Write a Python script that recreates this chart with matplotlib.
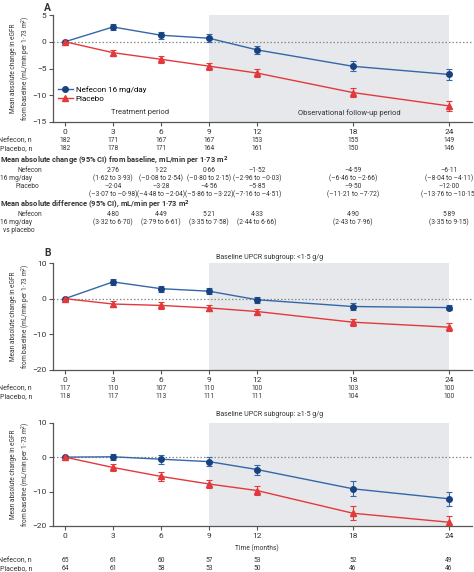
import numpy as np
import matplotlib
matplotlib.use('Agg')
import matplotlib.pyplot as plt
import matplotlib.transforms as mtransforms
from matplotlib.lines import Line2D

plt.rcParams['font.family'] = ['Roboto', 'Liberation Sans', 'DejaVu Sans']
fontSize = 4.8
headSize = 5.4

colorBlue = '#3467a8'
colorBlueDark = '#17427f'
colorRed = '#e3393b'
colorShade = '#e6e8ec'
colorAxis = '#555555'
colorText = '#333333'

months = [0, 3, 6, 9, 12, 18, 24]

# Panel A: overall population
nefA = [0, 2.76, 1.22, 0.66, -1.52, -4.59, -6.11]
nefA_err = [0, 0.59, 0.67, 0.76, 0.73, 0.97, 1.0]
plaA = [0, -2.04, -3.28, -4.56, -5.85, -9.50, -12.00]
plaA_err = [0, 0.53, 0.62, 0.67, 0.68, 0.89, 0.92]
nefA_n = ['182', '171', '167', '167', '153', '155', '149']
plaA_n = ['182', '178', '171', '164', '161', '150', '146']
nefA_change = ['', '2·76', '1·22', '0·66', '–1·52', '–4·59', '–6·11']
nefA_ci = ['', '(1·62 to 3·93)', '(–0·08 to 2·54)', '(–0·80 to 2·15)', '(–2·96 to –0·03)',
           '(–6·46 to –2·66)', '(–8·04 to –4·11)']
plaA_change = ['', '–2·04', '–3·28', '–4·56', '–5·85', '–9·50', '–12·00']
plaA_ci = ['', '(–3·07 to –0·98)', '(–4·48 to –2·04)', '(–5·86 to –3·22)', '(–7·16 to –4·51)',
           '(–11·21 to –7·72)', '(–13·76 to –10·15)']
diffA = ['', '4·80', '4·49', '5·21', '4·33', '4·90', '5·89']
diffA_ci = ['', '(3·32 to 6·70)', '(2·79 to 6·61)', '(3·35 to 7·58)', '(2·44 to 6·66)',
            '(2·43 to 7·96)', '(3·35 to 9·15)']

# Panel B, UPCR < 1.5 g/g
nefB1 = [0, 4.7, 2.8, 2.1, -0.3, -2.2, -2.5]
nefB1_err = [0, 0.9, 0.8, 0.9, 0.8, 0.9, 0.8]
plaB1 = [0, -1.5, -1.9, -2.6, -3.6, -6.6, -8.0]
plaB1_err = [0, 0.9, 0.9, 0.9, 0.8, 1.0, 1.1]
nefB1_n = ['117', '110', '107', '110', '100', '103', '100']
plaB1_n = ['118', '117', '113', '111', '111', '104', '100']

# Panel B, UPCR >= 1.5 g/g
nefB2 = [0, 0.1, -0.6, -1.3, -3.6, -9.2, -12.1]
nefB2_err = [0, 0.9, 1.3, 1.2, 1.45, 2.2, 2.1]
plaB2 = [0, -3.0, -5.6, -7.8, -9.7, -16.3, -18.9]
plaB2_err = [0, 1.0, 1.4, 1.2, 1.4, 2.0, 1.75]
nefB2_n = ['65', '61', '60', '57', '53', '52', '49']
plaB2_n = ['64', '61', '58', '53', '50', '46', '46']

W, H = 474.0, 572.0
def fx(x):
    return x / W
def fy(y):
    return 1 - y / H

fig = plt.figure(figsize=(4.74, 5.72), dpi=100)

def makeAxes(top, bottom, ylim, yticks):
    ax = fig.add_axes([fx(53.3), fy(bottom), (471.7 - 53.3) / W, (bottom - top) / H])
    ax.set_xlim(-0.73, 25.42)
    ax.set_ylim(*ylim)
    ax.axvspan(9, 24, color=colorShade, lw=0, zorder=0)
    ax.axhline(0, color='#8a8a8a', lw=0.9, ls=(0, (1.2, 1.6)), zorder=1)
    ax.set_xticks(months)
    ax.set_yticks(yticks)
    ax.spines['right'].set_visible(False)
    ax.spines['top'].set_visible(False)
    for s in ['left', 'bottom']:
        ax.spines[s].set_color(colorAxis)
        ax.spines[s].set_linewidth(0.9)
    ax.tick_params(labelsize=6.0, length=3, width=0.8, pad=2, color=colorAxis, labelcolor=colorText)
    fig.text(fx(21.5), fy((top + bottom) / 2), 'Mean absolute change in eGFR\nfrom baseline (mL/min per 1·73 m$^2$)',
             rotation=90, ha='center', va='center', fontsize=4.7, color=colorText, linespacing=1.3)
    return ax

def drawSeries(ax, nef, nefErr, pla, plaErr):
    ax.errorbar(months, nef, yerr=nefErr, color=colorBlue, lw=1.0, elinewidth=0.8, capsize=2, capthick=0.8,
                marker='o', markersize=4, markerfacecolor=colorBlueDark, markeredgecolor=colorBlueDark, zorder=3)
    ax.errorbar(months, pla, yerr=plaErr, color=colorRed, lw=1.0, elinewidth=0.8, capsize=2, capthick=0.8,
                marker='^', markersize=4, markerfacecolor=colorRed, markeredgecolor=colorRed, zorder=3)

def rowText(ax, y, values):
    trans = mtransforms.blended_transform_factory(ax.transData, fig.transFigure)
    for m, v in zip(months, values):
        ax.text(m, fy(y), v, transform=trans, ha='center', va='center', fontsize=fontSize, color=colorText,
                clip_on=False)

def label(x, y, s, ha='left', bold=False, size=fontSize):
    fig.text(fx(x), fy(y), s, ha=ha, va='center', fontsize=size, color=colorText,
             fontweight='bold' if bold else 'normal')

# ---- Panel A
axA = makeAxes(15, 122, (-15, 5), [5, 0, -5, -10, -15])
drawSeries(axA, nefA, nefA_err, plaA, plaA_err)
axA.text(4.7, -13.3, 'Treatment period', ha='center', va='center', fontsize=headSize, color=colorText)
axA.text(17.75, -13.3, 'Observational follow-up period', ha='center', va='center', fontsize=headSize, color=colorText)
handles = [Line2D([], [], color=colorBlue, lw=1.0, marker='o', markersize=4, markerfacecolor=colorBlueDark,
                  markeredgecolor=colorBlueDark),
           Line2D([], [], color=colorRed, lw=1.0, marker='^', markersize=4)]
axA.legend(handles, ['Nefecon 16 mg/day', 'Placebo'], loc='upper left', bbox_to_anchor=(fx(58), fy(86)),
           bbox_transform=fig.transFigure, frameon=False, fontsize=5.8, handlelength=1.8, handletextpad=0.4,
           labelspacing=0.3, borderaxespad=0, borderpad=0)
label(44, 8, 'A', bold=True, size=7.5)

label(32, 141, 'Nefecon, n', ha='right', size=5.0)
label(32, 149, 'Placebo, n', ha='right', size=5.0)
rowText(axA, 141, nefA_n)
rowText(axA, 149, plaA_n)
label(0, 161, 'Mean absolute change (95% CI) from baseline, mL/min per 1·73 m$^\\mathbf{2}$', bold=True, size=headSize)
label(17, 170, 'Nefecon')
label(0, 178, '16 mg/day')
label(16, 186, 'Placebo')
rowText(axA, 170, nefA_change)
rowText(axA, 178, nefA_ci)
rowText(axA, 186, plaA_change)
rowText(axA, 194, plaA_ci)
label(0, 205, 'Mean absolute difference (95% CI), mL/min per 1·73 m$^\\mathbf{2}$', bold=True, size=headSize)
label(17, 214, 'Nefecon')
label(0, 222, '16 mg/day')
label(3, 231, 'vs placebo')
rowText(axA, 214, diffA)
rowText(axA, 222, diffA_ci)

# ---- Panel B
label(44, 253, 'B', bold=True, size=7.5)
label(216, 257, 'Baseline UPCR subgroup: <1·5 g/g', size=5.0)
axB1 = makeAxes(263, 370, (-20, 10), [10, 0, -10, -20])
drawSeries(axB1, nefB1, nefB1_err, plaB1, plaB1_err)
label(32, 389, 'Nefecon, n', ha='right', size=5.0)
label(32, 397, 'Placebo, n', ha='right', size=5.0)
rowText(axB1, 389, nefB1_n)
rowText(axB1, 397, plaB1_n)

label(216, 415, 'Baseline UPCR subgroup: ≥1·5 g/g', size=5.0)
axB2 = makeAxes(422.7, 526, (-20, 10), [10, 0, -10, -20])
drawSeries(axB2, nefB2, nefB2_err, plaB2, plaB2_err)
rowText(axB2, 548, ['', '', '', '', 'Time (months)', '', ''])
label(32, 561, 'Nefecon, n', ha='right', size=5.0)
label(32, 569, 'Placebo, n', ha='right', size=5.0)
rowText(axB2, 561, nefB2_n)
rowText(axB2, 569, plaB2_n)

plt.savefig('out.png', dpi=100)
